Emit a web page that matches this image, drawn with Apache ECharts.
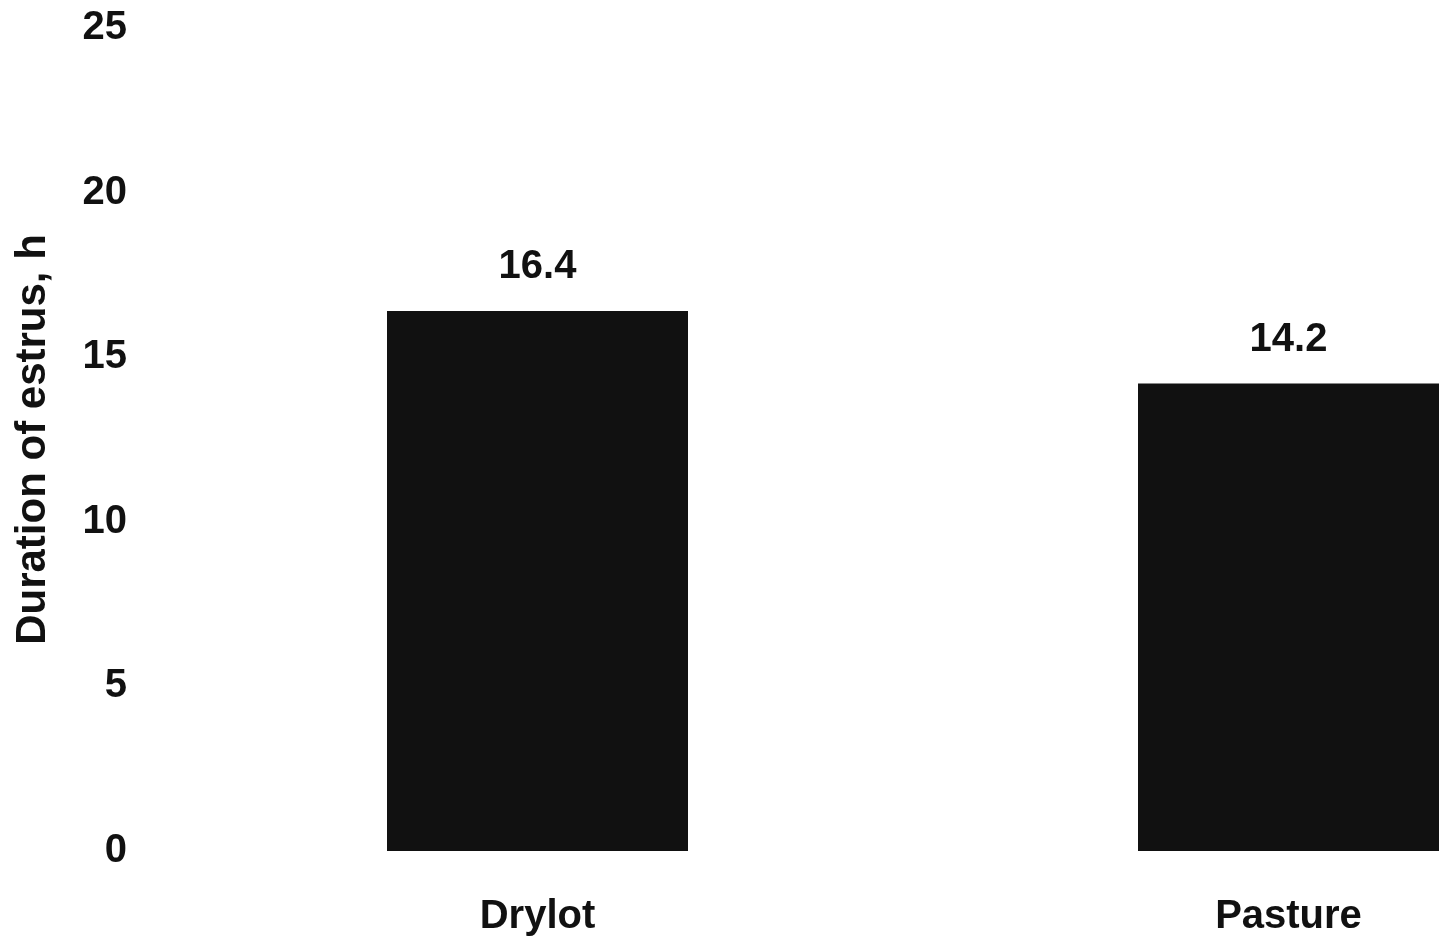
<!DOCTYPE html>
<html>
<head>
<meta charset="utf-8">
<script src="https://cdn.jsdelivr.net/npm/echarts@6/dist/echarts.min.js"></script>
<style>
html,body{margin:0;padding:0;background:#fff;}
#chart{width:1439px;height:944px;}
</style>
</head>
<body>
<div id="chart"></div>
<script>
const categories = ['Drylot', 'Pasture'];
const durationValues = [16.4, 14.2];
const yTicks = [0, 5, 10, 15, 20, 25];
const yAxisName = 'Duration of estrus, h';

const chart = echarts.init(document.getElementById('chart'));
const font = '"Liberation Sans", Arial, sans-serif';
chart.setOption({
  animation: false,
  backgroundColor: '#ffffff',
  grid: { left: 162, top: 28, right: -225, bottom: 93, containLabel: false, outerBoundsMode: 'none' },
  xAxis: {
    type: 'category',
    data: categories,
    axisLine: { show: false },
    axisTick: { show: false },
    axisLabel: { color: '#111', fontSize: 40, fontWeight: 'bold', fontFamily: font, margin: 46 }
  },
  yAxis: {
    type: 'value',
    min: yTicks[0],
    max: yTicks[yTicks.length - 1],
    interval: 5,
    name: yAxisName,
    nameLocation: 'middle',
    nameGap: 108,
    nameTextStyle: { color: '#111', fontSize: 42, fontWeight: 'bold', fontFamily: font },
    axisLine: { show: false },
    axisTick: { show: false },
    splitLine: { show: false },
    axisLabel: { color: '#111', fontSize: 40, fontWeight: 'bold', fontFamily: font, margin: 35 }
  },
  series: [{
    type: 'bar',
    data: durationValues,
    barWidth: 301,
    itemStyle: { color: '#111111' },
    label: {
      show: true,
      position: 'top',
      distance: 24,
      color: '#111',
      fontSize: 40,
      fontWeight: 'bold',
      fontFamily: font,
      formatter: p => p.value.toFixed(1)
    }
  }]
});
</script>
</body>
</html>
